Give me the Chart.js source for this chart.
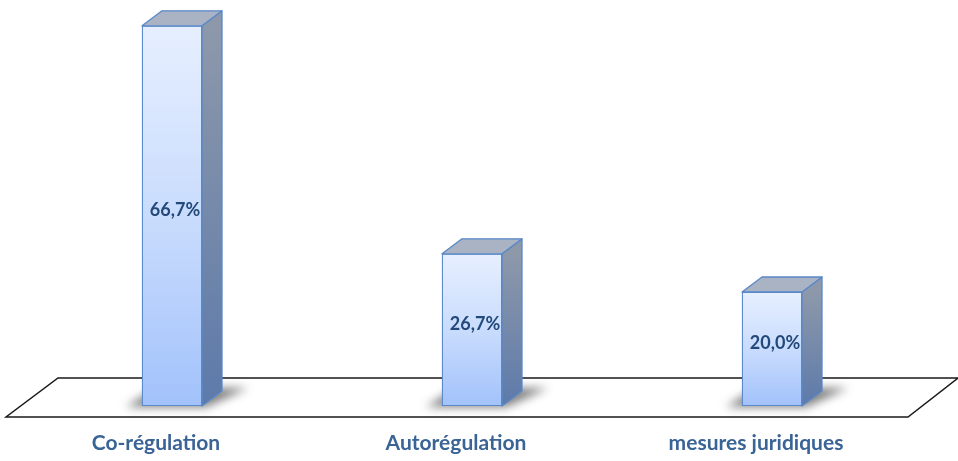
<!DOCTYPE html>
<html>
<head>
<meta charset="utf-8">
<script src="https://cdn.jsdelivr.net/npm/chart.js@4/dist/chart.umd.min.js"></script>
<style>
  html, body { margin: 0; padding: 0; background: #ffffff; }
  canvas { display: block; }
</style>
</head>
<body>
<canvas id="chart" width="958" height="461"></canvas>
<script>
// Survey answers: preferred regulation approach (share of respondents, %)
const categories = ['Co-régulation', 'Autorégulation', 'mesures juridiques'];
const shares = [66.7, 26.7, 20.0];
const shareLabels = ['66,7%', '26,7%', '20,0%'];

const DEPTH_X = 20;   // 3D box depth, horizontal
const DEPTH_Y = 15;   // 3D box depth, vertical

// Per-bar vertical gradient for the front face
function frontGradient(ctx) {
  const chart = ctx.chart;
  if (!chart.chartArea || !chart.scales.y) return '#c5dafc';
  const yScale = chart.scales.y;
  const top = yScale.getPixelForValue(shares[ctx.dataIndex]);
  const bottom = yScale.getPixelForValue(0);
  const g = chart.ctx.createLinearGradient(0, top, 0, bottom);
  g.addColorStop(0, '#e6efff');
  g.addColorStop(0.5, '#c9dcfd');
  g.addColorStop(1, '#a2c2fb');
  return g;
}

// Floor, shadows, side/top faces and value labels
const box3d = {
  id: 'box3d',
  beforeDatasetsDraw(chart) {
    const { ctx, chartArea } = chart;
    const base = chart.scales.y.getPixelForValue(0);
    // floor plane
    ctx.save();
    ctx.beginPath();
    ctx.moveTo(chartArea.left - 16, base + 11);
    ctx.lineTo(chartArea.right - 14, base + 11);
    ctx.lineTo(chartArea.right + 36, base - 28);
    ctx.lineTo(chartArea.left + 36, base - 28);
    ctx.closePath();
    ctx.fillStyle = '#ffffff';
    ctx.fill();
    ctx.lineWidth = 1.5;
    ctx.strokeStyle = '#1a1a1a';
    ctx.stroke();
    ctx.restore();

    // soft shadows on the floor
    const meta = chart.getDatasetMeta(0);
    meta.data.forEach((bar) => {
      const L = bar.x - bar.width / 2;
      const R = bar.x + bar.width / 2;
      ctx.save();
      ctx.filter = 'blur(5px)';
      ctx.fillStyle = 'rgba(40,40,40,0.6)';
      ctx.beginPath();
      ctx.moveTo(L - 16, base + 1);
      ctx.lineTo(R + 4, base + 1);
      ctx.lineTo(R + DEPTH_X + 26, base - 18);
      ctx.lineTo(L + DEPTH_X - 6, base - 18);
      ctx.closePath();
      ctx.fill();
      ctx.restore();
    });
  },
  afterDatasetsDraw(chart) {
    const { ctx } = chart;
    const base = chart.scales.y.getPixelForValue(0);
    const meta = chart.getDatasetMeta(0);
    meta.data.forEach((bar, i) => {
      const L = bar.x - bar.width / 2;
      const R = bar.x + bar.width / 2;
      const T = bar.y;
      ctx.save();
      ctx.lineJoin = 'round';
      ctx.lineWidth = 1.3;
      ctx.strokeStyle = '#5a88c8';

      // side face
      const sg = ctx.createLinearGradient(0, T, 0, base);
      sg.addColorStop(0, '#8d98aa');
      sg.addColorStop(1, '#5d7aaa');
      ctx.beginPath();
      ctx.moveTo(R, T);
      ctx.lineTo(R + DEPTH_X, T - DEPTH_Y);
      ctx.lineTo(R + DEPTH_X, base - DEPTH_Y);
      ctx.lineTo(R, base);
      ctx.closePath();
      ctx.fillStyle = sg;
      ctx.fill();
      ctx.stroke();

      // top face
      ctx.beginPath();
      ctx.moveTo(L, T);
      ctx.lineTo(L + DEPTH_X, T - DEPTH_Y);
      ctx.lineTo(R + DEPTH_X, T - DEPTH_Y);
      ctx.lineTo(R, T);
      ctx.closePath();
      ctx.fillStyle = '#a9b3c4';
      ctx.fill();
      ctx.stroke();
      ctx.restore();

      // value label
      ctx.save();
      ctx.font = 'bold 18px Lato, sans-serif';
      ctx.fillStyle = '#23497a';
      ctx.textAlign = 'center';
      ctx.textBaseline = 'middle';
      ctx.fillText(shareLabels[i], bar.x + 3, (T + base) / 2 - 6);
      ctx.restore();
    });
  }
};

new Chart(document.getElementById('chart'), {
  type: 'bar',
  data: {
    labels: categories,
    datasets: [{
      data: shares,
      backgroundColor: frontGradient,
      borderColor: '#5a88c8',
      borderWidth: 1.3,
      borderSkipped: false,
      barThickness: 60
    }]
  },
  options: {
    responsive: false,
    animation: false,
    layout: { padding: { top: 7, left: 22, right: 36, bottom: 0 } },
    plugins: {
      legend: { display: false },
      tooltip: { enabled: false }
    },
    scales: {
      y: {
        display: false,
        min: 0,
        max: 70
      },
      x: {
        grid: { display: false, drawTicks: false },
        border: { display: false },
        ticks: {
          padding: 25,
          labelOffset: -16,
          color: '#3a6396',
          font: { family: 'Lato, sans-serif', weight: 'bold', size: 21 }
        },
        afterFit(scale) { scale.height = 55; }
      }
    }
  },
  plugins: [box3d]
});
</script>
</body>
</html>
